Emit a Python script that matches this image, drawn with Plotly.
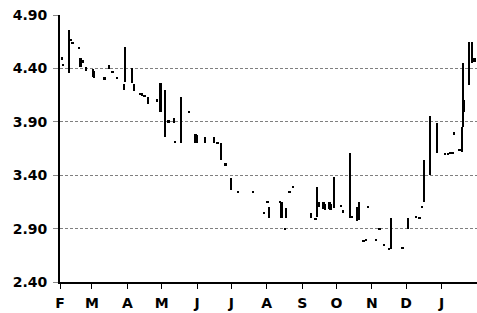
import numpy as np
import plotly.graph_objects as go

# ---- data ----
dates = [
    "2001-02-03", "2001-02-04", "2001-02-09", "2001-02-11", "2001-02-12", "2001-02-18",
    "2001-02-19", "2001-02-21", "2001-02-24", "2001-03-02", "2001-03-03", "2001-03-12",
    "2001-03-16", "2001-03-19", "2001-03-23", "2001-03-29", "2001-03-30", "2001-04-05",
    "2001-04-07", "2001-04-12", "2001-04-14", "2001-04-16", "2001-04-19", "2001-04-27",
    "2001-04-30", "2001-05-04", "2001-05-07", "2001-05-12", "2001-05-13", "2001-05-18",
    "2001-05-25", "2001-05-31", "2001-06-01", "2001-06-08", "2001-06-16", "2001-06-19",
    "2001-06-22", "2001-06-26", "2001-07-01", "2001-07-07", "2001-07-20", "2001-07-30",
    "2001-08-02", "2001-08-03", "2001-08-13", "2001-08-14", "2001-08-17", "2001-08-18",
    "2001-08-21", "2001-08-24", "2001-09-09", "2001-09-13", "2001-09-14", "2001-09-16",
    "2001-09-20", "2001-09-21", "2001-09-25", "2001-09-26", "2001-09-29", "2001-10-05",
    "2001-10-07", "2001-10-13", "2001-10-15", "2001-10-19", "2001-10-21", "2001-10-25",
    "2001-10-27", "2001-10-29", "2001-11-05", "2001-11-08", "2001-11-12", "2001-11-16",
    "2001-11-18", "2001-11-28", "2001-12-03", "2001-12-10", "2001-12-13", "2001-12-15",
    "2001-12-17", "2001-12-22", "2001-12-28", "2002-01-04", "2002-01-07", "2002-01-09",
    "2002-01-11", "2002-01-12", "2002-01-17", "2002-01-19", "2002-01-20", "2002-01-21",
    "2002-01-25", "2002-01-28", "2002-01-30",
]
lows = [
    4.48, 4.42, 4.36, 4.66, 4.63, 4.58,
    4.41, 4.45, 4.38, 4.32, 4.31, 4.29,
    4.39, 4.36, 4.30, 4.20, 4.27, 4.26,
    4.19, 4.15, 4.14, 4.13, 4.07, 4.09,
    3.99, 3.76, 3.89, 3.89, 3.70, 3.70,
    3.98, 3.70, 3.70, 3.70, 3.70, 3.69,
    3.54, 3.49, 3.26, 3.23, 3.23, 3.04,
    3.14, 3.00, 3.14, 3.00, 2.89, 3.00,
    3.23, 3.28, 3.00, 2.98, 3.01, 3.10,
    3.08, 3.07, 3.08, 3.07, 3.09, 3.10,
    3.05, 3.00, 3.00, 2.97, 2.98, 2.77,
    2.78, 3.09, 2.78, 2.89, 2.74, 2.70,
    2.71, 2.71, 2.90, 3.00, 2.99, 3.09,
    3.15, 3.40, 3.61, 3.59, 3.59, 3.60,
    3.60, 3.78, 3.63, 3.62, 3.85, 3.99,
    4.24, 4.45, 4.46,
]
highs = [
    4.51, 4.44, 4.76, 4.68, 4.65, 4.60,
    4.50, 4.48, 4.41, 4.39, 4.38, 4.32,
    4.43, 4.38, 4.32, 4.25, 4.60, 4.40,
    4.25, 4.17, 4.17, 4.15, 4.13, 4.11,
    4.26, 4.20, 3.92, 3.94, 3.72, 4.13,
    4.00, 3.79, 3.78, 3.76, 3.76, 3.71,
    3.70, 3.51, 3.37, 3.25, 3.25, 3.06,
    3.16, 3.10, 3.16, 3.15, 2.91, 3.09,
    3.25, 3.30, 3.05, 3.00, 3.29, 3.15,
    3.15, 3.13, 3.15, 3.13, 3.38, 3.12,
    3.07, 3.61, 3.02, 3.10, 3.15, 2.79,
    2.80, 3.11, 2.80, 2.91, 2.76, 2.72,
    3.00, 2.73, 3.00, 3.02, 3.01, 3.11,
    3.54, 3.95, 3.89, 3.61, 3.61, 3.62,
    3.62, 3.80, 3.65, 3.85, 4.45, 4.10,
    4.65, 4.65, 4.50,
]

month_starts = ["2001-02-01", "2001-03-01", "2001-04-01", "2001-05-01", "2001-06-01",
                "2001-07-01", "2001-08-01", "2001-09-01", "2001-10-01", "2001-11-01",
                "2001-12-01", "2002-01-01"]
month_labels = ["F", "M", "A", "M", "J", "J", "A", "S", "O", "N", "D", "J"]
y_ticks = [2.40, 2.90, 3.40, 3.90, 4.40, 4.90]

lo = np.array(lows)
hi = np.array(highs)

fig = go.Figure(go.Bar(
    x=dates, y=hi - lo, base=lo,
    width=1.7 * 86400000,
    marker=dict(color="black", line=dict(width=0)),
    hoverinfo="skip",
))

y_font = dict(family="DejaVu Sans", size=14, color="black", weight="bold")
x_font = dict(family="DejaVu Sans", size=14, color="black", weight="bold")

fig.update_layout(
    width=477, height=313,
    margin=dict(l=60, r=0, t=15, b=31),
    paper_bgcolor="white", plot_bgcolor="white",
    showlegend=False,
    bargap=0,
    xaxis=dict(
        type="date", range=["2001-02-01", "2002-02-01"],
        tickmode="array", tickvals=month_starts, ticktext=month_labels,
        ticks="outside", ticklen=5, tickwidth=1, tickcolor="black",
        showline=True, linecolor="black", linewidth=1.5,
        showgrid=False, zeroline=False, automargin=False,
        tickfont=x_font, ticklabelstandoff=2,
    ),
    yaxis=dict(
        range=[2.40, 4.90],
        tickmode="array", tickvals=y_ticks, tickformat=".2f",
        ticks="outside", ticklen=5, tickwidth=1, tickcolor="#888888",
        showline=True, linecolor="black", linewidth=2,
        showgrid=True, gridcolor="#7f7f7f", gridwidth=1, griddash="3px,2px",
        zeroline=False, automargin=False,
        tickfont=y_font, ticklabelstandoff=3,
    ),
)

fig.write_html("out.html", config={"displayModeBar": False},
               post_script="document.body.style.margin='0';")
